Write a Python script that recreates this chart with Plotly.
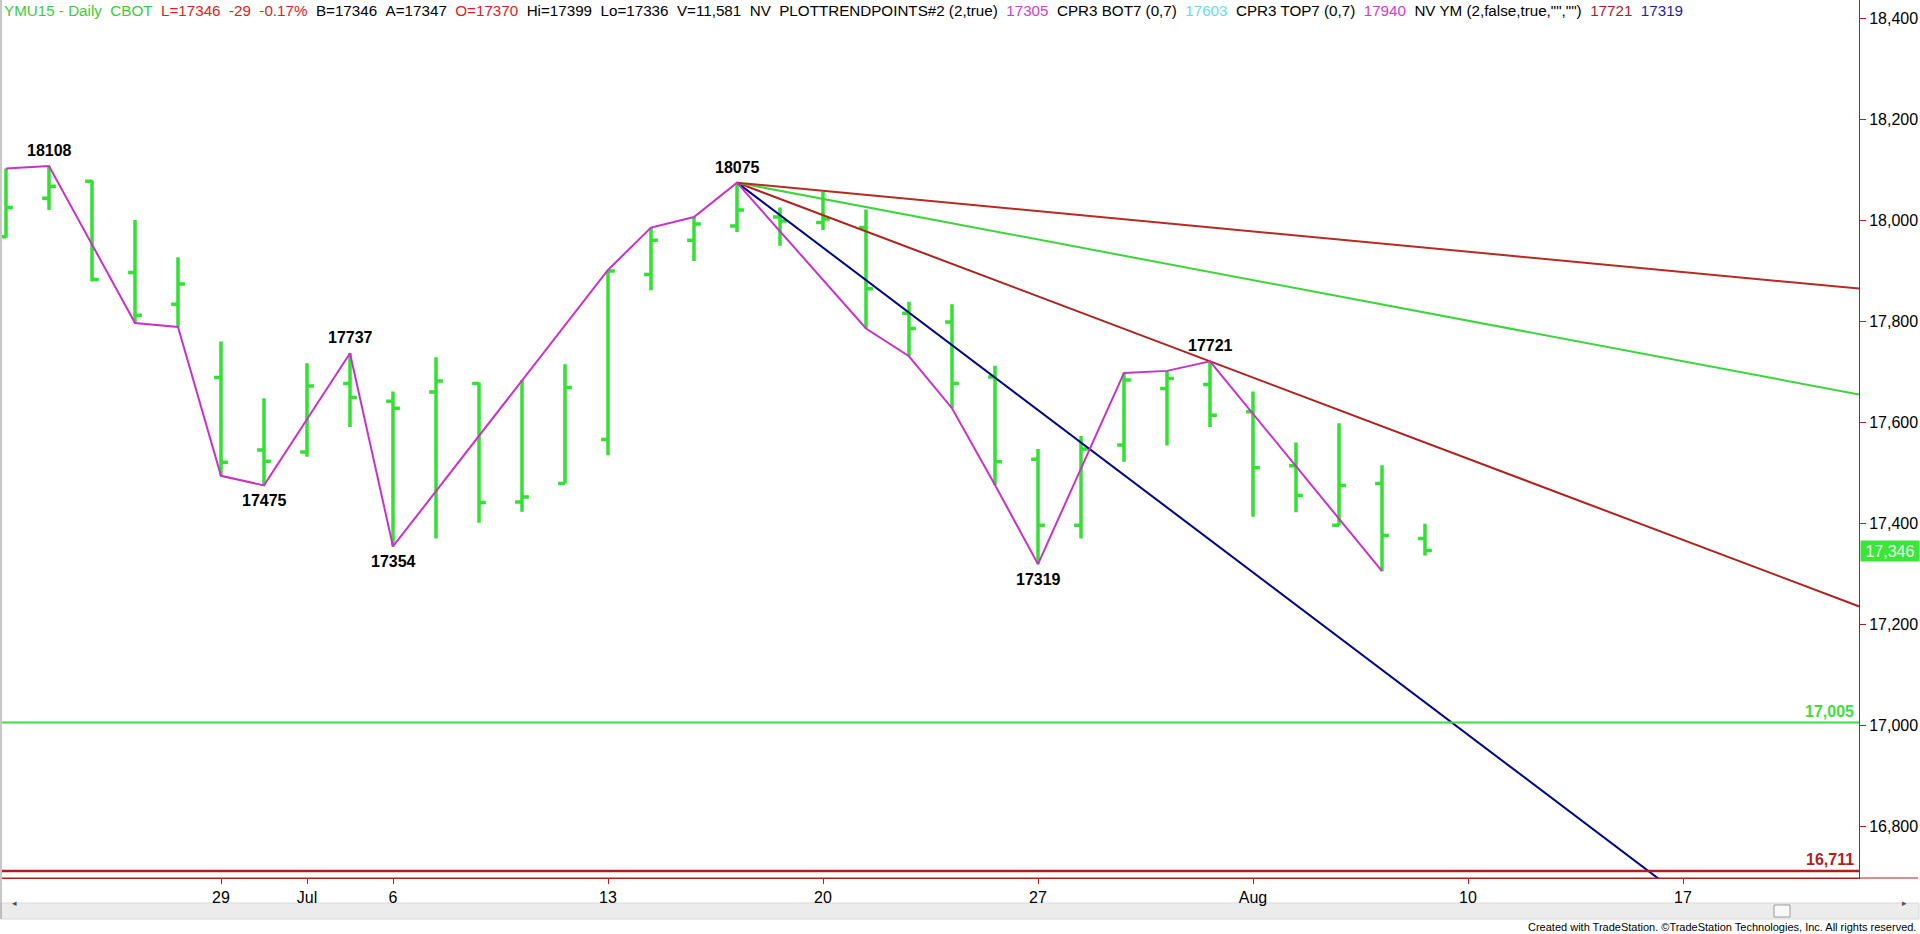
import pandas as pd
import plotly.graph_objects as go

# ---------------- data ----------------
dates = ["2015-06-22", "2015-06-23", "2015-06-24", "2015-06-25", "2015-06-26",
         "2015-06-29", "2015-06-30", "2015-07-01", "2015-07-02", "2015-07-06",
         "2015-07-07", "2015-07-08", "2015-07-09", "2015-07-10", "2015-07-13",
         "2015-07-14", "2015-07-15", "2015-07-16", "2015-07-17", "2015-07-20",
         "2015-07-21", "2015-07-22", "2015-07-23", "2015-07-24", "2015-07-27",
         "2015-07-28", "2015-07-29", "2015-07-30", "2015-07-31", "2015-08-03",
         "2015-08-04", "2015-08-05", "2015-08-06", "2015-08-07"]
opens = [17968, 18044, 18078, 17897, 17834, 17689, 17545, 17541, 17677, 17642,
         17660, 17677, 17442, 17479, 17566, 17893, 17961, 17989, 18007, 17996,
         17986, 17816, 17799, 17690, 17527, 17396, 17555, 17667, 17675, 17621,
         17514, 17396, 17479, 17370]
highs = [18103, 18108, 18080, 18001, 17927, 17760, 17648, 17717, 17737, 17661,
         17729, 17679, 17684, 17715, 17902, 17986, 18007, 18075, 18026, 18057,
         18022, 17839, 17834, 17712, 17547, 17573, 17698, 17702, 17721, 17661,
         17560, 17598, 17515, 17399]
lows = [17966, 18021, 17879, 17797, 17789, 17494, 17475, 17532, 17591, 17354,
        17370, 17401, 17423, 17479, 17535, 17862, 17920, 17977, 17950, 17981,
        17786, 17731, 17628, 17476, 17319, 17370, 17522, 17554, 17591, 17413,
        17422, 17396, 17305, 17336]
closes = [18026, 18068, 17883, 17812, 17874, 17521, 17523, 17672, 17649, 17628,
          17682, 17441, 17452, 17669, 17900, 17961, 17993, 18021, 17999, 18003,
          17865, 17786, 17677, 17522, 17396, 17547, 17684, 17687, 17614, 17510,
          17455, 17475, 17376, 17346]

holidays = ["2015-07-03"]

tick_dates = ["2015-06-29", "2015-07-01", "2015-07-06", "2015-07-13", "2015-07-20",
              "2015-07-27", "2015-08-03", "2015-08-10", "2015-08-17"]
tick_labels = ["29", "Jul", "6", "13", "20", "27", "Aug", "10", "17"]

price_ticks = [16800, 17000, 17200, 17400, 17600, 17800, 18000, 18200, 18400]

swing_dates = ["2015-06-22", "2015-06-23", "2015-06-25", "2015-06-26", "2015-06-29",
               "2015-06-30", "2015-07-02", "2015-07-06", "2015-07-13", "2015-07-14",
               "2015-07-15", "2015-07-16", "2015-07-21", "2015-07-22", "2015-07-23",
               "2015-07-24", "2015-07-27", "2015-07-29", "2015-07-30", "2015-07-31",
               "2015-08-06"]
swing_values = [18103, 18108, 17797, 17789, 17494, 17475, 17737, 17354, 17902, 17986,
                18007, 18075, 17786, 17731, 17628, 17476, 17319, 17698, 17702, 17721,
                17305]

label_dates = ["2015-06-23", "2015-06-30", "2015-07-02", "2015-07-06", "2015-07-16",
               "2015-07-27", "2015-07-31"]
label_values = [18108, 17475, 17737, 17354, 18075, 17319, 17721]
label_side = ["above", "below", "above", "below", "above", "below", "above"]

fan_anchor_dates = ["2015-07-16", "2015-07-31"]
fan_anchor_values = [18075, 17721]
fan_multipliers = [2, 1, 0.5, 0.25]
fan_colors = ["#000088", "#B0201C", "#3CD63C", "#B82A22"]

levels = [17005, 16711]
level_labels = ["17,005", "16,711"]
level_colors = ["#3EDC3E", "#B01E1E"]

last_price = 17346

# ---------------- calendar (trading days) ----------------
cal = [d.strftime("%Y-%m-%d") for d in pd.bdate_range("2015-06-22", "2015-09-04")]
cal = [d for d in cal if d not in holidays]
pos = {d: i for i, d in enumerate(cal)}
xs = [pos[d] for d in dates]

# plot-area geometry (pixels)
W, H = 1920, 934
ML, MR, MT, MB = 2, 61, 0, 56
PW = W - ML - MR
PH = H - MT - MB
X_RANGE = [-0.093, 43.093]
Y_RANGE = [16697, 18437]


def px_to_paper_x(px):
    return (px - ML) / PW


def px_to_paper_y(py):
    return 1 - (py - MT) / PH


fig = go.Figure()

GREEN = "#33E033"
fig.add_trace(go.Ohlc(
    x=xs, open=opens, high=highs, low=lows, close=closes,
    increasing=dict(line=dict(color=GREEN, width=3.5)),
    decreasing=dict(line=dict(color=GREEN, width=3.5)),
    tickwidth=0.16, hoverinfo="skip", showlegend=False,
))

# fan lines from the 18075 high, 1x1 through 17721
xa, xb = pos[fan_anchor_dates[0]], pos[fan_anchor_dates[1]]
base_slope = (fan_anchor_values[1] - fan_anchor_values[0]) / (xb - xa)
x_end = pos[cal[-1]]
for m, c in zip(fan_multipliers, fan_colors):
    fig.add_trace(go.Scatter(
        x=[xa, x_end],
        y=[fan_anchor_values[0], fan_anchor_values[0] + base_slope * m * (x_end - xa)],
        mode="lines", line=dict(color=c, width=2), hoverinfo="skip", showlegend=False))

# swing zigzag
fig.add_trace(go.Scatter(
    x=[pos[d] for d in swing_dates], y=swing_values, mode="lines",
    line=dict(color="#C832C8", width=2), hoverinfo="skip", showlegend=False))

shapes = []
annotations = []

# horizontal levels
for lv, lt, lc in zip(levels, level_labels, level_colors):
    shapes.append(dict(type="line", xref="paper", yref="y", x0=0, x1=1, y0=lv, y1=lv,
                       line=dict(color=lc, width=2.5 if lv == levels[1] else 2)))
    annotations.append(dict(xref="paper", yref="y", x=px_to_paper_x(1856), y=lv,
                            xanchor="right", yanchor="bottom", yshift=1,
                            text="<b>%s</b>" % lt, showarrow=False,
                            font=dict(family="Liberation Sans, Arial", size=16, color=lc)))

# pivot labels
for d, v, s in zip(label_dates, label_values, label_side):
    annotations.append(dict(x=pos[d], y=v, xref="x", yref="y",
                            text="<b>%d</b>" % v, showarrow=False,
                            yanchor="bottom" if s == "above" else "top",
                            yshift=5 if s == "above" else -5,
                            font=dict(family="Liberation Sans, Arial", size=16, color="black")))

# last price box
annotations.append(dict(xref="paper", yref="y", x=1, y=last_price, xanchor="left",
                        xshift=1, text="{:,}".format(last_price), showarrow=False,
                        bgcolor="#3CE43C", width=56, height=18,
                        font=dict(family="Liberation Sans, Arial", size=16, color="#E8FFE8")))

# header status line
sp = "\u00a0\u00a0"
segments = [
    ("YMU15 - Daily" + sp + "CBOT", "#3CCB3C"),
    (sp + "L=17346" + sp + "-29" + sp + "-0.17%", "#E0201C"),
    (sp + "B=17346" + sp + "A=17347", "#000000"),
    (sp + "O=17370", "#E0201C"),
    (sp + "Hi=17399" + sp + "Lo=17336" + sp + "V=11,581" + sp + "NV" + sp + "PLOTTRENDPOINTS#2 (2,true)", "#000000"),
    (sp + "17305", "#D040D0"),
    (sp + "CPR3 BOT7 (0,7)", "#000000"),
    (sp + "17603", "#66DDDD"),
    (sp + "CPR3 TOP7 (0,7)", "#000000"),
    (sp + "17940", "#D040D0"),
    (sp + "NV YM (2,false,true,\"\",\"\")", "#000000"),
    (sp + "17721", "#B01E1E"),
    (sp + "17319", "#1E1EA0"),
]
header = "".join('<span style="color:%s">%s</span>' % (c, t) for t, c in segments)
annotations.append(dict(xref="paper", yref="paper", x=0, y=1, xanchor="left", yanchor="top",
                        xshift=0, yshift=0, text=header, showarrow=False,
                        font=dict(family="Liberation Sans, Arial", size=15.2, color="black")))

# credit
annotations.append(dict(xref="paper", yref="paper", x=px_to_paper_x(1918), y=px_to_paper_y(927),
                        xanchor="right", yanchor="middle", showarrow=False,
                        text="Created with TradeStation. \u00a9TradeStation Technologies, Inc. All rights reserved.",
                        font=dict(family="Liberation Sans, Arial", size=11, color="black")))

# x-axis line extended under price scale
shapes.append(dict(type="line", xref="paper", yref="paper", x0=0, x1=px_to_paper_x(1918),
                   y0=0, y1=0, line=dict(color="#B01E1E", width=1)))
# left border
shapes.append(dict(type="line", xref="paper", yref="paper", x0=px_to_paper_x(1), x1=px_to_paper_x(1),
                   y0=1, y1=px_to_paper_y(919), line=dict(color="#909090", width=1)))
# scrollbar
shapes.append(dict(type="rect", xref="paper", yref="paper", x0=px_to_paper_x(1), x1=px_to_paper_x(1919),
                   y0=px_to_paper_y(903), y1=px_to_paper_y(919),
                   fillcolor="#ECECEC", line=dict(color="#DADADA", width=1), layer="below"))
shapes.append(dict(type="rect", xref="paper", yref="paper", x0=px_to_paper_x(1774), x1=px_to_paper_x(1790),
                   y0=px_to_paper_y(905), y1=px_to_paper_y(917),
                   fillcolor="#F8F8F8", line=dict(color="#9A9A9A", width=1)))
annotations.append(dict(xref="paper", yref="paper", x=px_to_paper_x(10), y=px_to_paper_y(911),
                        text="\u25c2", showarrow=False, font=dict(size=9, color="#505050")))
annotations.append(dict(xref="paper", yref="paper", x=px_to_paper_x(1909), y=px_to_paper_y(911),
                        text="\u25b8", showarrow=False, font=dict(size=9, color="#505050")))

fig.update_layout(
    width=W, height=H, margin=dict(l=ML, r=MR, t=MT, b=MB),
    paper_bgcolor="white", plot_bgcolor="white",
    showlegend=False, shapes=shapes, annotations=annotations,
    xaxis=dict(range=X_RANGE, tickmode="array",
               tickvals=[pos[d] for d in tick_dates], ticktext=tick_labels,
               showgrid=False, zeroline=False, showline=True, linecolor="#B01E1E", linewidth=1,
               ticks="outside", ticklen=5, tickcolor="#B01E1E",
               tickfont=dict(family="Liberation Sans, Arial", size=16, color="black"),
               rangeslider=dict(visible=False), fixedrange=True),
    yaxis=dict(range=Y_RANGE, side="right", tickmode="array", tickvals=price_ticks,
               ticktext=["{:,}".format(t) for t in price_ticks],
               showgrid=False, zeroline=False, showline=True, linecolor="#B01E1E", linewidth=1,
               ticks="outside", ticklen=6, tickcolor="#B01E1E",
               tickfont=dict(family="Liberation Sans, Arial", size=16, color="black"),
               fixedrange=True),
)

fig.write_html("out.html", config={"displayModeBar": False},
               post_script="document.body.style.margin='0px';document.body.style.overflow='hidden';")
